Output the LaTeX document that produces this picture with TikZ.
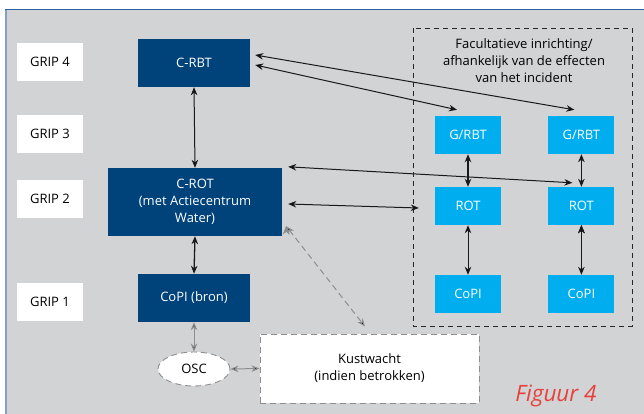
\documentclass[tikz,border=0pt]{standalone}
\usepackage{fontspec}
\setmainfont{Open Sans}
\usetikzlibrary{arrows.meta, positioning, shapes.geometric}

\definecolor{bggray}{HTML}{D2D3D5}
\definecolor{darkblue}{HTML}{00427A}
\definecolor{lightblue}{HTML}{00AEEF}
\definecolor{framblue}{HTML}{2E5FA0}
\definecolor{dashgray}{HTML}{8E8E8E}
\definecolor{figred}{HTML}{E8403A}

\tikzset{
  grip/.style={fill=white, minimum width=66pt, minimum height=38pt, inner sep=0pt},
  central/.style={fill=darkblue, text=white, minimum width=112pt, minimum height=48pt, inner sep=0pt, align=center},
  regional/.style={fill=lightblue, text=white, minimum width=66pt, minimum height=38pt, inner sep=0pt},
  link/.style={<->, line width=1pt, draw=black!90},
  greylink/.style={<->, line width=1pt, draw=dashgray},
  greydash/.style={dash pattern=on 6pt off 4pt},
}

\begin{document}
\begin{tikzpicture}[x=1pt, y=-1pt, >={Stealth[length=8pt, width=6.5pt, inset=2.5pt]}, font=\fontsize{13}{17}\selectfont]
\useasboundingbox (0,0) rectangle (644,414);

% background and frame
\fill[bggray] (6,10) rectangle (644,414);
\draw[framblue!60, line width=1.5pt] (6,10) -- (6,414);
\draw[framblue, line width=1.5pt] (5.25,9.5) -- (644,9.5);

% optional part
\draw[black!85, line width=0.9pt, dash pattern=on 5pt off 4pt] (413,28) rectangle (632,326);
\node[align=center] (fac) at (524,61) {Facultatieve inrichting/\\afhankelijk van de effecten\\van het incident};

% GRIP levels
\node[grip] (grip4) at (50,62) {GRIP 4};
\node[grip] (grip3) at (50,134) {GRIP 3};
\node[grip] (grip2) at (50,199) {GRIP 2};
\node[grip] (grip1) at (50,302) {GRIP 1};

% central chain
\node[central] (crbt) at (194,63) {C-RBT};
\node[central, minimum width=174pt, minimum height=68pt] (crot) at (195,202) {C-ROT\\(met Actiecentrum\\Water)};
\node[central] (copib) at (194,298) {CoPI (bron)};
\node[ellipse, draw=dashgray, greydash, line width=0.9pt, fill=white, minimum width=72pt, minimum height=34pt, inner sep=0pt] (osc) at (194,369) {OSC};
\node[draw=dashgray, greydash, line width=1pt, fill=white, minimum width=219pt, minimum height=69pt, align=center] (kust) at (369.5,368.5) {Kustwacht\\(indien betrokken)};

% regional columns
\node[regional] (grbt1) at (468,135) {G/RBT};
\node[regional] (grbt2) [right=47pt of grbt1] {G/RBT};
\node[regional] (rot1) at (468,206) {ROT};
\node[regional] (rot2) [right=47pt of rot1] {ROT};
\node[regional] (copi1) at (468,294) {CoPI};
\node[regional] (copi2) [right=47pt of copi1] {CoPI};

% links
\path[link] (crbt.south) edge (crot.north)
            (crot.south) edge[line width=1.3pt] (copib.north)
            ([xshift=5pt,yshift=8pt]crbt.east) edge ([xshift=-7pt,yshift=6pt]grbt2.north)
            ([xshift=5pt,yshift=-2pt]crbt.east) edge ([xshift=-11pt,yshift=6pt]grbt1.north)
            ([xshift=6pt,yshift=1pt]crot.north east) edge ([xshift=-9pt,yshift=4pt]rot2.north)
            ([xshift=6pt,yshift=-2pt]crot.east) edge ([xshift=-16pt,yshift=-2pt]rot1.west)
            (grbt1.south) edge[line width=1.3pt] (rot1.north)
            (grbt2.south) edge[line width=1.3pt] (rot2.north)
            (rot1.south) edge (copi1.north)
            (rot2.south) edge (copi2.north);
\path[greylink] (copib.south) edge (osc.north)
                (osc.east) edge (kust.west)
                ([xshift=4pt,yshift=10pt]crot.south east) edge[greydash] ([xshift=-4.5pt,yshift=7pt]kust.north);

\node[text=figred, font=\fontsize{22.5}{26}\selectfont\itshape] (fig) at (556,396) {Figuur 4};
\end{tikzpicture}
\end{document}
